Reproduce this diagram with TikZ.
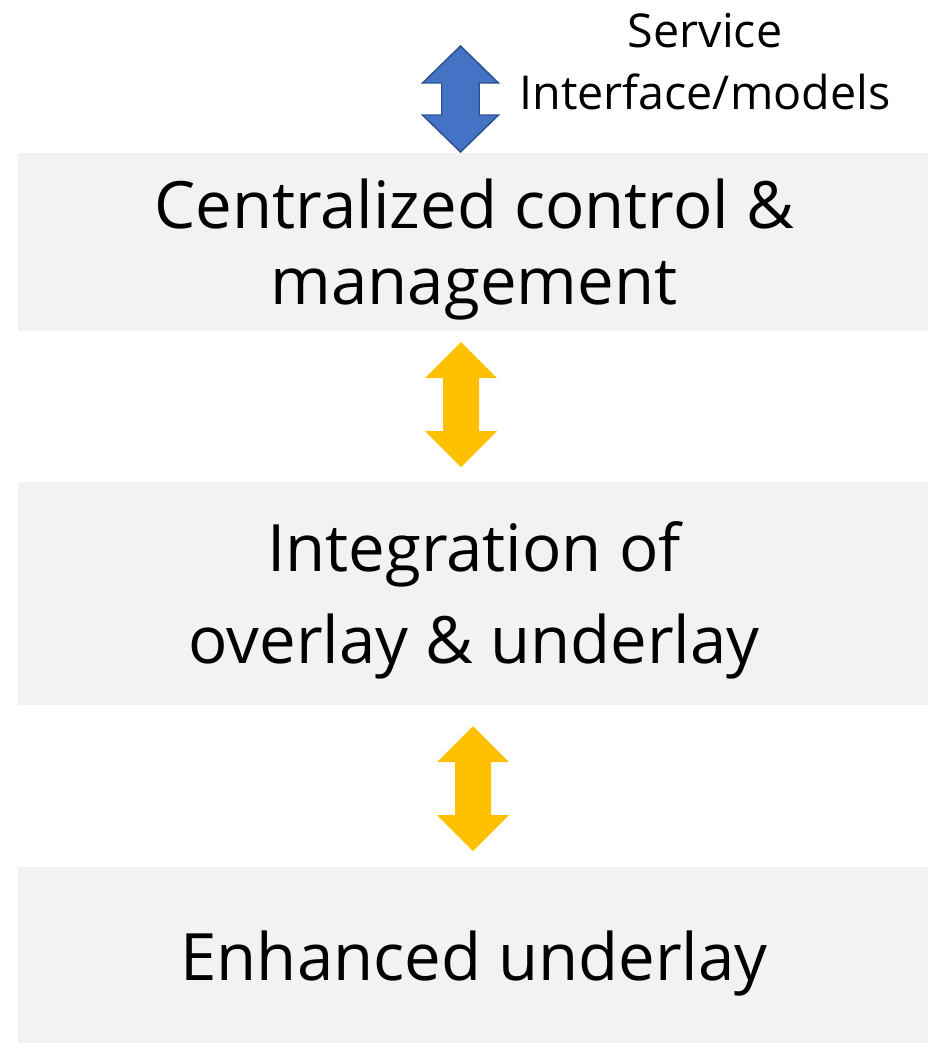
\documentclass[tikz,border=0pt]{standalone}
\usepackage{fontspec}
\setmainfont{Open Sans}
\begin{document}
\begin{tikzpicture}[x=0.75pt,y=-0.75pt,
  layer/.style={fill=boxgray,draw=none,minimum width=682.5pt,inner sep=0pt},
  layertext/.style={align=center,inner sep=0pt,font=\fontsize{49}{57}\selectfont},
  note/.style={align=center,inner sep=0pt,font=\fontsize{35}{47}\selectfont},
  bluearrow/.style={fill=arrowblue,draw=arrowedge,line width=1.1pt,line join=miter},
  goldarrow/.style={fill=arrowgold,draw=none}]
\definecolor{boxgray}{HTML}{F2F2F2}
\definecolor{arrowblue}{HTML}{4472C4}
\definecolor{arrowedge}{HTML}{2F528F}
\definecolor{arrowgold}{HTML}{FFC000}
% vertical double arrow: centre x, top y, bottom y, head width, shaft width, head length
\newcommand\vdoublearrow[7]{%
  \path[#1] (#2,#3) -- (#2+#5/2,#3+#7) -- (#2+#6/2,#3+#7) -- (#2+#6/2,#4-#7)
    -- (#2+#5/2,#4-#7) -- (#2,#4) -- (#2-#5/2,#4-#7) -- (#2-#6/2,#4-#7)
    -- (#2-#6/2,#3+#7) -- (#2-#5/2,#3+#7) -- cycle;}
\useasboundingbox (0,0) rectangle (938,1043);

% the three layers
\node[layer,minimum height=133.5pt] (ctrl) at (473,242) {};
\node[layer,minimum height=167.25pt] (integ) at (473,593.5) {};
\node[layer,minimum height=132pt] (under) at (473,955) {};

\node[layertext] (ctrltext) at (474,250) {Centralized control \&\\management};
\node[layertext,font=\fontsize{49}{69}\selectfont] (integtext) at (474,600.5)
  {Integration of\\overlay \& underlay};
\node[layertext] (undertext) at (474,964) {Enhanced underlay};

\node[note] (svc) at (705,61.5) {Service\\Interface/models};

% connectors between the layers
\vdoublearrow{bluearrow}{460.5}{46}{152}{76}{37.5}{37}
\vdoublearrow{goldarrow}{461}{342}{467}{72}{36}{36}
\vdoublearrow{goldarrow}{473}{726}{851}{72}{36}{36}
\end{tikzpicture}
\end{document}
